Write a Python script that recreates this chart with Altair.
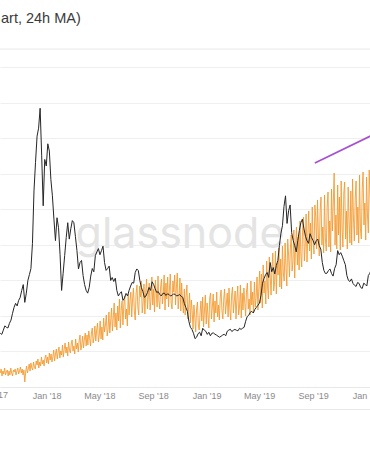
import altair as alt
import pandas as pd

title_text = "art, 24h MA)"
watermark = "glassnode"
first_tick_label = "Sep '17"

# BTC price (USD): weekly readings starting 2017-09-17 ...
price_start = "2017-09-17"
price_week = [3780, 3990, 4200, 4480, 5180, 5880, 6090, 6790, 5950, 7490,
              8330, 13790, 17640, 19600, 12740, 15540, 16590, 13440, 10290, 11200,
              6790, 9240, 11550, 11130, 11550, 9590, 8750, 7840, 6790, 7000,
              8330, 9240, 9730, 9590, 8750, 8330, 7490, 7420, 6790, 6580,
              6090, 6580, 6790, 7350, 8050, 8190, 7000, 6300, 6650, 6790,
              7210, 6650, 6510, 6580, 6440, 6510, 6440, 6510, 6440, 6370,
              5880, 5320, 4200, 3780, 3500, 3850, 4130, 3920, 3850, 3780,
              3710, 3570, 3570, 3710, 3920, 4060, 3990, 3990, 4130, 4130,
              4620, 5040, 5320, 5460, 5740, 6440, 7630, 8050, 8750, 8400,
              8540, 9940, 11340, 13440, 12390, 10850, 9940, 10290, 11550, 11130,
              10290, 10780, 10290, 10290, 9940, 8750, 7980, 8190, 7980, 8330,
              9590, 9450, 8890, 7840, 7420, 7280, 7070, 7280, 6930, 7210,
              7840, 8330]
# ... and the readings half a week later
price_mid = [3700, 4300, 4150, 4700, 5600, 5700, 6300, 7200, 6600, 7900,
             10100, 15800, 18200, 16300, 16000, 17100, 14600, 11800, 11900, 9300,
             8000, 10500, 10400, 11700, 10600, 8300, 8900, 7200, 6600, 7800,
             8100, 9500, 9300, 9900, 8200, 8500, 7700, 7650, 6400, 6700,
             6250, 6400, 7100, 7300, 8300, 7500, 6700, 6400, 7000, 7400,
             6900, 6700, 6400, 6600, 6550, 6400, 6550, 6400, 6500, 6300,
             5600, 4600, 4050, 3400, 3750, 3600, 4000, 3700, 3600, 3800,
             3650, 3500, 3650, 3600, 4000, 3900, 4050, 3950, 4050, 4200,
             4950, 5250, 5200, 5600, 5900, 7300, 7900, 7700, 8100, 7950,
             8900, 10800, 12700, 11500, 12800, 10300, 9500, 11000, 11800, 10600,
             10100, 10500, 10000, 10400, 9700, 8200, 8000, 8300, 7800, 8600,
             9300, 9200, 8600, 7500, 7600, 7150, 7350, 7000, 7300, 7100,
             8000]

# Hash rate (EH/s), readings every 2 days starting 2017-09-17
hash_start = "2017-09-17"
hash_vals = [
    7, 9, 5.5, 8, 6.5, 9.5, 6, 7.5, 8.5, 5.5,
    8, 6, 9.5, 7, 5.5, 8.5, 7.5, 9, 6, 8,
    9.5, 6.5, 8, 10, 7, 9, 6, 8.5, 2.5, 7.5,
    10.5, 7, 9, 11.5, 8, 12, 9.5, 8.5, 12.5, 10,
    9, 13, 11, 14, 9.5, 12.5, 10.5, 15, 11.5, 13.5,
    10.5, 14.5, 16, 12, 15, 11.5, 17, 13.5, 16.5, 12.5,
    15, 18.5, 13, 16.5, 19, 14, 17.5, 20, 14.5, 18,
    16, 21, 15, 19, 22, 17, 20, 15.5, 22.5, 18.5,
    17, 21.5, 23.5, 18, 20.5, 16.5, 24, 19, 22, 17.5,
    23, 26, 18.5, 21, 25.5, 19.5, 24, 27, 20.5, 26,
    21, 28, 24.5, 20.5, 27, 29.5, 22, 25, 30.5, 23,
    28.5, 32, 22.5, 26, 33, 24, 30, 23.5, 34.5, 27.5,
    31, 36, 25.5, 29, 37.5, 27, 33, 39.5, 28, 35,
    42, 30, 37, 28.5, 40.5, 33, 44, 29.5, 38.5, 43,
    31, 41, 45.5, 34, 39, 30.5, 46.5, 36, 43, 47.5,
    35, 44, 49.5, 38, 33.5, 47, 51, 40, 36, 50.5,
    45, 53, 37, 42, 51.5, 36.5, 48, 54, 39, 46,
    52, 38.5, 44, 55, 41, 49, 37.5, 53.5, 47, 40,
    55.5, 43, 39, 50, 54, 41.5, 46, 56, 38.5, 52,
    44, 55, 40, 48.5, 56.5, 42, 39, 53, 47.5, 56,
    41, 50, 57, 39, 45, 54.5, 38, 52, 42.5, 37,
    49, 36, 45.5, 51, 34, 40, 47, 32, 43.5, 38,
    29, 41, 35, 27.5, 39, 42.5, 31, 28.5, 37, 43,
    33, 45, 30, 38, 46, 31.5, 42, 36, 29.5, 44.5,
    47, 34, 40, 46.5, 32.5, 43, 37, 47.5, 35, 41,
    33.5, 45, 48.5, 38, 34, 44, 49, 36.5, 41.5, 47,
    35, 49.5, 39, 33.5, 46, 50, 37, 43, 48, 34,
    44, 50.5, 36, 40, 51, 34.5, 47, 38.5, 49.5, 42,
    35.5, 48, 52, 39, 44, 36, 53, 41, 47.5, 37,
    52.5, 40, 45, 55, 38.5, 49, 58, 42, 56.5, 39.5,
    61, 47, 53, 41.5, 63, 50, 44, 65, 55.5, 46,
    59, 67, 48, 52, 68, 46.5, 62, 56, 69.5, 50,
    64, 49, 70.5, 57, 53, 72, 60, 50.5, 74, 66,
    55, 69, 76, 58, 63, 78.5, 54.5, 71, 80, 61,
    75, 58.5, 83, 66, 60, 79, 85, 63, 71, 86.5,
    62.5, 77, 88, 68, 82, 64, 90, 73, 66.5, 91,
    85, 69, 93.5, 76, 65.5, 88, 95, 71, 80, 67,
    96, 74, 68, 90, 97.5, 70, 83, 67.5, 99, 78,
    92, 107, 71, 86, 69, 101, 76, 95, 68.5, 103,
    80, 70, 97, 102.5, 74, 88, 69, 100, 83, 72,
    98, 71, 104, 85, 73, 94, 103, 76, 90, 72,
    106, 79, 74, 99, 107.5, 81, 92, 73.5, 105, 86,
    77, 108.5, 95, 78, 109.5, 83, 100, 76, 104, 90,
]

# Trend line on the hash-rate scale
trend_dates = ["2019-09-05", "2020-01-10"]
trend_vals = [112, 125.5]

tick_dates = [(2018, 1), (2018, 5), (2018, 9), (2019, 1),
              (2019, 5), (2019, 9), (2020, 1)]
price_grid = [0, 2500, 5000, 7500, 10000, 12500, 15000, 17500, 20000, 22500]

week_dates = pd.date_range(price_start, periods=len(price_week), freq="7D")
mid_dates = pd.date_range(pd.Timestamp(price_start) + pd.Timedelta(hours=84),
                          periods=len(price_mid), freq="7D")
price_df = pd.concat([
    pd.DataFrame({"date": week_dates, "price": price_week}),
    pd.DataFrame({"date": mid_dates, "price": price_mid}),
]).sort_values("date").reset_index(drop=True)

hash_df = pd.DataFrame({
    "date": pd.date_range(hash_start, periods=len(hash_vals), freq="2D"),
    "hash": hash_vals,
})
trend_df = pd.DataFrame({"date": pd.to_datetime(trend_dates), "hash": trend_vals})
one = pd.DataFrame({"t": [watermark], "title": [title_text], "lab": [first_tick_label]})

x_scale = alt.Scale(domain=[alt.DateTime(year=2017, month=9, date=16, hours=10),
                            alt.DateTime(year=2020, month=1, date=8, hours=19)])
x_axis = alt.Axis(values=[alt.DateTime(year=y, month=m, date=1) for y, m in tick_dates],
                  format="%b '%y", title=None, grid=False, ticks=False,
                  labelFontSize=9, labelColor="#8a8a8a", labelPadding=4,
                  labelFont="Liberation Sans", domainColor="#e8e8e8",
                  labelOverlap=False, labelBound=False, labelFlush=False)

hash_scale = alt.Scale(domain=[0, 160])

wm = alt.Chart(one).mark_text(fontSize=43, font="Inter", color="#e4e4e4",
                              align="center", baseline="alphabetic").encode(
    text="t:N", x=alt.value(180), y=alt.value(181))

title = alt.Chart(one).mark_text(fontSize=14.5, font="Liberation Sans", color="#3a3a3a",
                                 align="left", baseline="middle").encode(
    text="title:N", x=alt.value(1), y=alt.value(-48))

# first axis label sits just outside the left edge (only its tail shows)
first_lab = alt.Chart(one).mark_text(fontSize=9, font="Liberation Sans", color="#8a8a8a",
                                     align="center", baseline="top").encode(
    text="lab:N", x=alt.value(-7), y=alt.value(324))

top_rule = alt.Chart(one).mark_rule(color="#e8e8e8", strokeWidth=1).encode(
    x=alt.value(0), x2=alt.value(370), y=alt.value(-18))
bottom_rule = alt.Chart(one).mark_rule(color="#e8e8e8", strokeWidth=1).encode(
    x=alt.value(0), x2=alt.value(370), y=alt.value(342.5))

orange = alt.Chart(hash_df).mark_line(color="#f3982a", strokeWidth=0.9, opacity=0.95,
                                      clip=True).encode(
    x=alt.X("date:T", scale=x_scale, axis=x_axis),
    y=alt.Y("hash:Q", scale=hash_scale, axis=None))

trend = alt.Chart(trend_df).mark_line(color="#a64fd3", strokeWidth=1.6, clip=True).encode(
    x=alt.X("date:T", scale=x_scale, axis=x_axis),
    y=alt.Y("hash:Q", scale=hash_scale, axis=None))

black = alt.Chart(price_df).mark_line(color="#262626", strokeWidth=1, clip=True).encode(
    x=alt.X("date:T", scale=x_scale, axis=x_axis),
    y=alt.Y("price:Q", scale=alt.Scale(domain=[0, 22500]),
            axis=alt.Axis(values=price_grid, grid=True, labels=False, ticks=False,
                          domain=False, title=None, gridColor="#efefef")))

chart = alt.layer(wm, orange, trend, black, title, first_lab, top_rule,
                  bottom_rule).resolve_scale(
    y="independent"
).properties(
    width=370, height=320,
    autosize=alt.AutoSizeParams(type="none"),
    padding={"top": 67, "left": 0, "right": 0, "bottom": 63},
    background="white",
).configure_view(stroke=None)

chart.save("out.html", embed_options={"renderer": "svg", "actions": False})
